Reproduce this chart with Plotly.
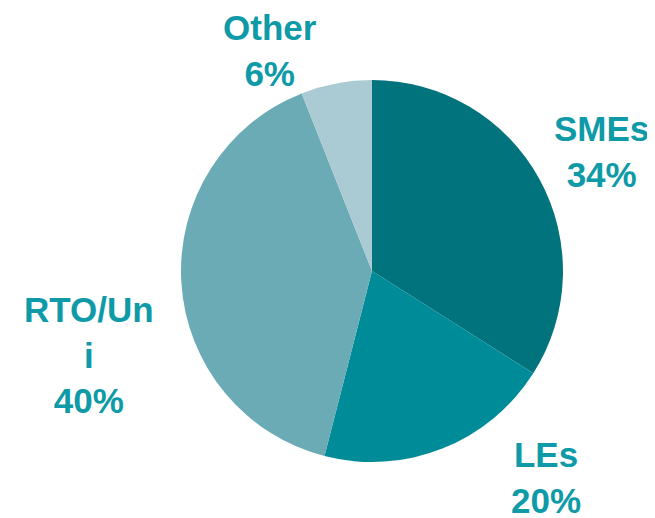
import plotly.graph_objects as go

labels = ["SMEs", "LEs", "RTO/Uni", "Other"]
display_labels = ["SMEs", "LEs", "RTO/Un<br>i", "Other"]
values = [34, 20, 40, 6]
colors = ["#00737D", "#008B98", "#6AABB6", "#AACBD3"]

# figure sits inside the page's default 8px body margin
OFF = 8
W, H = 647, 510
cx, cy, r = 372 - OFF, 271 - OFF, 191

# label centres in page pixels
label_px = [(601, 151), (546, 477), (89, 355), (270, 50)]

fig = go.Figure(go.Pie(
    labels=labels, values=values, sort=False, direction="clockwise", rotation=0,
    marker=dict(colors=colors, line=dict(width=0)),
    textinfo="none", hoverinfo="label+percent", showlegend=False,
    domain=dict(x=[(cx - r) / W, (cx + r) / W], y=[(H - cy - r) / H, (H - cy + r) / H]),
))

for lab, v, (px, py) in zip(display_labels, values, label_px):
    fig.add_annotation(x=(px - OFF) / W, y=1 - (py - OFF) / H, xref="paper", yref="paper",
                       showarrow=False, xanchor="center", yanchor="middle",
                       text=f"<b>{lab}<br>{v}%</b>",
                       font=dict(family="Liberation Sans, Arial", size=35, color="#0E9AA7"))

fig.update_layout(width=W, height=H, margin=dict(l=0, r=0, t=0, b=0),
                  paper_bgcolor="white", plot_bgcolor="white")
fig.write_html("out.html")
